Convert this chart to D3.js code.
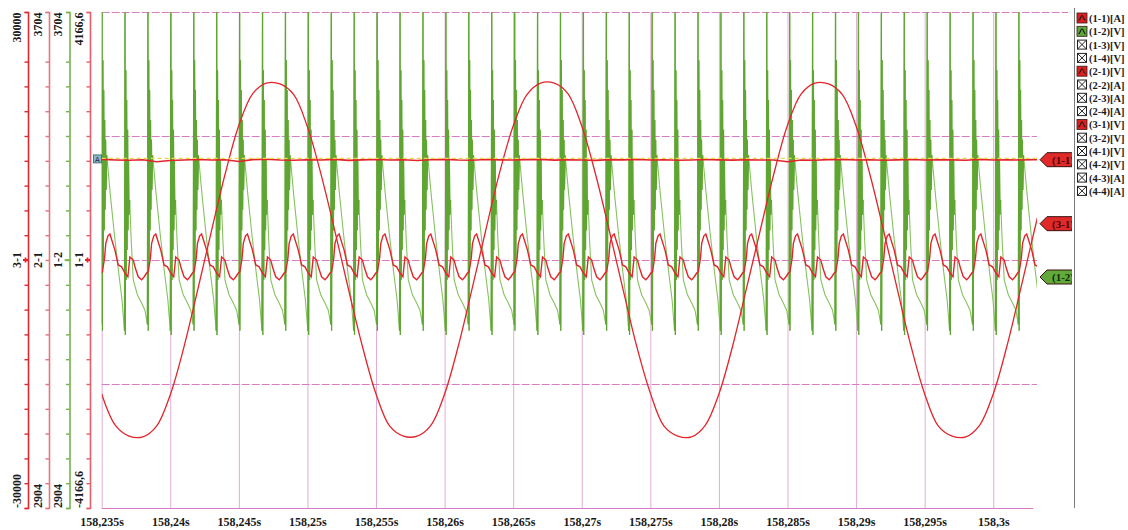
<!DOCTYPE html>
<html><head><meta charset="utf-8">
<script src="https://cdn.jsdelivr.net/npm/d3@7/dist/d3.min.js"></script>
<style>
html,body{margin:0;padding:0;background:#fff;}
svg{display:block;font-family:"Liberation Serif","Times New Roman",serif;font-weight:bold;}
</style></head><body>
<svg id="c" width="1128" height="530"></svg>
<script>
// ---------------- DATA ----------------
const T0 = 158.235;                       // s, left edge of the record
const spanMs = 67.92;                     // visible time span (ms)
const xTicks = [158.235,158.24,158.245,158.25,158.255,158.26,158.265,158.27,158.275,158.28,158.285,158.29,158.295,158.3];
const xTickLabels = ["158,235s","158,24s","158,245s","158,25s","158,255s","158,26s","158,265s","158,27s","158,275s","158,28s","158,285s","158,29s","158,295s","158,3s"];

const axisNames   = ["3-1","2-1","1-2","1-1"];
const axisTop     = ["30000","3704","3704","4166,6"];
const axisBottom  = ["-30000","2904","2904","-4166,6"];
const axisDomains = [[-30000,30000],[2904,3704],[2904,3704],[-4166.6,4166.6]];
const hGridValues = [30000,15000,0,-15000,-30000]; // on the 3-1 scale

// (3-1)[V] : one sample per ms, t = 0..69 ms
const ch31 = [
 -16200,-20000,-21300,-21400,-20100,-16300,-10500,-3600,3500,10400,
 16300,20100,21400,21300,20000,16100,10300,3500,-3600,-10400,
 -16200,-20100,-21300,-21300,-20000,-16200,-10400,-3500,3600,10500,
 16200,20000,21400,21400,20100,16200,10400,3600,-3500,-10400,
 -16100,-20100,-21300,-21400,-20000,-16200,-10400,-3500,3500,10400,
 16300,20100,21400,21300,20000,16200,10400,3600,-3500,-10400,
 -16200,-20100,-21300,-21400,-20000,-16200,-10400,-3500,3600,10400];

// (1-1)[A] : one sample per ms, t = 0..69 ms
const ch11 = [
 1690,1680,1675,1685,1650,1672,1680,1688,1679,1683,
 1655,1686,1692,1681,1677,1684,1680,1690,1674,1682,
 1688,1679,1685,1671,1683,1690,1680,1676,1688,1682,
 1679,1686,1691,1678,1684,1680,1673,1687,1682,1690,
 1679,1684,1676,1681,1689,1683,1678,1685,1680,1680,
 1650,1681,1677,1686,1690,1680,1684,1675,1682,1688,
 1679,1685,1683,1677,1690,1681,1684,1680,1686,1682];
const ch11Trigger = 1708;

// (2-1)[V] : one ripple period [ms after peak, value]
const ripplePeriodMs = 3.342, ripplePhaseMs = 0.6;
const ch21Cycle = [[0,3346],[0.365,3320],[0.605,3296],[0.853,3293],[1.094,3283],[1.31,3277],
 [1.458,3309],[1.70,3304],[1.85,3291],[2.063,3277],[2.311,3272],[2.5,3277],[2.676,3283],
 [2.79,3285],[2.95,3307],[3.04,3331],[3.2,3343]];

// (1-2)[V] : two alternating commutation cycles [ms after spike, value]
const spikePeriodMs = 1.671, spikePhaseMs = 0.03, burstEndMs = 0.34;
const ch12CycleA = [[0,3764],[0.02,3183],[0.06,3610],[0.09,3272],[0.12,3562],[0.155,3320],[0.19,3514],
 [0.22,3352],[0.255,3465],[0.29,3377],[0.34,3401],[0.45,3336],[0.6,3272],[0.9,3248],[1.2,3235],[1.45,3223],[1.63,3200]];
const ch12CycleB = [[0,3764],[0.02,3190],[0.06,3626],[0.09,3304],[0.12,3578],[0.155,3352],[0.19,3530],
 [0.22,3385],[0.255,3498],[0.29,3417],[0.34,3473],[0.6,3409],[0.9,3344],[1.2,3285],[1.45,3240],[1.63,3190]];

const legendItems = ["(1-1)[A]","(1-2)[V]","(1-3)[V]","(1-4)[V]","(2-1)[V]","(2-2)[A]","(2-3)[A]","(2-4)[A]","(3-1)[V]","(3-2)[V]","(4-1)[V]","(4-2)[V]","(4-3)[A]","(4-4)[A]"];
const legendOn    = ["red","green",null,null,"red",null,null,null,"red",null,null,null,null,null];

// ---------------- LAYOUT / STYLE ----------------
const L = 101.7, R = 1033.3, TOP = 12, BOT = 508, CLIPR = 1037;
const axisX = [28, 49, 69.5, 90];
const axisColors = ["#e3262c","#e8737a","#74b34a","#e25f6b"];
const RED = "#e2252b", GREEN_LIGHT = "#86c25f", GREEN_DARK = "#5ea532", PINK = "#d97cc6", PINKV = "#e2acd8";

const svg = d3.select("#c");
const x = d3.scaleLinear().domain([T0, T0 + spanMs/1000]).range([L, R]);
const yScales = axisDomains.map(d => d3.scaleLinear().domain(d).range([BOT, TOP]));
const [y31, y21, y12, y11] = yScales;
const tx = ms => x(T0 + ms/1000);

// clip
const defs = svg.append("defs");
defs.append("clipPath").attr("id","pc")
  .append("rect").attr("x", L).attr("y", TOP).attr("width", CLIPR - L).attr("height", BOT - TOP);
defs.append("clipPath").attr("id","fc")
  .append("rect").attr("x", 1030).attr("y", 0).attr("width", 42).attr("height", 530);

// vertical grid via axis
const vg = svg.append("g").attr("transform", `translate(0,${BOT})`)
  .call(d3.axisBottom(x).tickValues(xTicks).tickSize(-(BOT-TOP)).tickFormat(""));
vg.select(".domain").remove();
vg.selectAll(".tick line").attr("stroke", PINKV).attr("stroke-width", 1);

// horizontal grid
hGridValues.forEach((v,i) => {
  const yy = Math.round(y31(v)) + 0.5;
  const x2 = i === 0 ? 1068 : (i === hGridValues.length-1 ? R : CLIPR);
  svg.append("line").attr("x1", L).attr("x2", x2).attr("y1", yy).attr("y2", yy)
    .attr("stroke", PINK).attr("stroke-width", 1)
    .attr("stroke-dasharray", i === hGridValues.length-1 ? null : "8,2");
});

// x tick labels
const xa = svg.append("g").attr("transform", `translate(0,${BOT})`)
  .call(d3.axisBottom(x).tickValues(xTicks).tickSize(0).tickFormat((d,i) => xTickLabels[i]));
xa.select(".domain").remove();
xa.selectAll("text").attr("y", 18).attr("dy", 0)
  .style("font-family", '"Liberation Serif",serif').style("font-weight","bold")
  .style("font-size","12px").attr("fill","#1a1a1a");

// left axes
axisDomains.forEach((dom, i) => {
  const s = yScales[i];
  const tv = d3.range(21).map(j => dom[0] + j*(dom[1]-dom[0])/20).filter((_, j) => j !== 19);
  const g = svg.append("g").attr("transform", `translate(${axisX[i]},0)`)
    .call(d3.axisLeft(s).tickValues(tv).tickSize(3.5).tickSizeOuter(3.5).tickFormat(""));
  g.select(".domain").attr("stroke", axisColors[i]).attr("stroke-width", 1.6);
  g.selectAll(".tick line").attr("stroke", axisColors[i]).attr("stroke-width", 1.4);
  const bx = axisX[i] - 7.5;
  const lab = (txt, yy, anchor) => svg.append("text")
    .attr("transform", `translate(${bx},${yy}) rotate(-90)`)
    .attr("text-anchor", anchor).attr("font-size", 12).attr("fill", "#1a1a1a").text(txt);
  lab(axisTop[i], TOP + 0.5, "end");
  lab(axisBottom[i], BOT, "start");
  lab(axisNames[i], (TOP + BOT)/2, "middle");
  const cy = (TOP + BOT)/2;
  if (i === 2) {
    svg.append("line").attr("x1", axisX[i]-5).attr("x2", axisX[i]).attr("y1", cy).attr("y2", cy)
      .attr("stroke", axisColors[i]).attr("stroke-width", 1.6);
  } else if (i === 0 || i === 3) {
    svg.append("path").attr("d", `M${axisX[i]-5},${cy}H${axisX[i]}M${axisX[i]-2.5},${cy-2.5}V${cy+2.5}`)
      .attr("stroke", "#e3262c").attr("stroke-width", 1.8);
  }
});

// ------------- series -------------
const plot = svg.append("g").attr("clip-path", "url(#pc)");
const lineOf = ys => d3.line().x(d => tx(d[0])).y(d => ys(d[1]));

// (1-2) green : whole trace light, commutation bursts dark
const g12 = [], bursts = [];
for (let k = -1; k <= 41; k++) {
  const s = spikePhaseMs + k*spikePeriodMs;
  const tpl = (Math.abs(k) % 2 === 0) ? ch12CycleB : ch12CycleA;
  const b = g12.length ? [g12[g12.length-1]] : [];
  tpl.forEach(p => {
    const pt = [s + p[0], p[1]];
    g12.push(pt);
    if (p[0] <= burstEndMs) b.push(pt);
  });
  bursts.push(b);
}
plot.append("path").datum(g12).attr("d", lineOf(y12))
  .attr("fill","none").attr("stroke", GREEN_LIGHT).attr("stroke-width", 1.1);
plot.selectAll(".burst").data(bursts).join("path").attr("class","burst")
  .attr("d", lineOf(y12)).attr("fill","none").attr("stroke", GREEN_DARK).attr("stroke-width", 1.2);

// (3-1) red sine
const s31 = ch31.map((v, i) => [i, v]);
plot.append("path").datum(s31).attr("d", lineOf(y31).curve(d3.curveCatmullRom))
  .attr("fill","none").attr("stroke", RED).attr("stroke-width", 1.3);

// (2-1) ripple
const s21 = [];
for (let k = -1; k <= 20; k++) {
  const p0 = ripplePhaseMs + k*ripplePeriodMs;
  ch21Cycle.forEach(p => s21.push([p0 + p[0], p[1]]));
}
plot.append("path").datum(s21).attr("d", lineOf(y21))
  .attr("fill","none").attr("stroke", RED).attr("stroke-width", 1.4);

// (1-1)
const s11 = ch11.map((v, i) => [i, v]);
plot.append("path").datum(s11).attr("d", lineOf(y11))
  .attr("fill","none").attr("stroke", RED).attr("stroke-width", 1.6);
plot.append("line").attr("x1", L).attr("x2", CLIPR)
  .attr("y1", y11(ch11Trigger)).attr("y2", y11(ch11Trigger))
  .attr("stroke", "#eed54a").attr("stroke-width", 1.3).attr("stroke-dasharray", "4,3");

// "A" marker
const ay = y11(ch11[0]);
svg.append("rect").attr("x", 93.5).attr("y", ay-4.5).attr("width", 8).attr("height", 8)
  .attr("fill", "#86b9cc").attr("stroke", "#3d5a6a").attr("stroke-width", 0.8);
svg.append("text").attr("x", 97.5).attr("y", ay+2.5).attr("text-anchor","middle")
  .attr("font-size", 7).attr("font-family","DejaVu Sans").attr("font-weight","normal").attr("fill","#223").text("A");

// ------------- right flags -------------
function valueAt(series, ms) {
  const i = d3.bisector(d => d[0]).left(series, ms);
  const a = series[Math.max(0, i-1)], b = series[Math.min(series.length-1, i)];
  if (b[0] === a[0]) return a[1];
  return a[1] + (b[1]-a[1]) * (ms - a[0]) / (b[0]-a[0]);
}
const edgeMs = (x.invert(1036) - T0) * 1000;
const flags = [
  {label:"(1-1)", y: y11(valueAt(s11, edgeMs)), fill:"#e02a2a", text:"#4a0000"},
  {label:"(3-1)", y: y31(valueAt(s31, edgeMs)), fill:"#e02a2a", text:"#4a0000"},
  {label:"(1-2)", y: y12(valueAt(g12, edgeMs)), fill:"#62a83a", text:"#0c2a00"}
];
const fg = svg.append("g").attr("clip-path","url(#fc)");
flags.forEach(f => {
  const yy = f.y;
  fg.append("path")
    .attr("d", `M1040,${yy}L1047,${yy-7}H1073V${yy+7}H1047Z`)
    .attr("fill", f.fill).attr("stroke", "#3a1010").attr("stroke-width", 1);
  fg.append("text").attr("x", 1052).attr("y", yy+4).attr("font-size", 11)
    .attr("fill", f.text).text(f.label);
});

// ------------- legend -------------
svg.append("line").attr("x1", 1074.5).attr("x2", 1074.5).attr("y1", 8).attr("y2", 508)
  .attr("stroke", "#7a7a7a").attr("stroke-width", 1);
legendItems.forEach((t, i) => {
  const cy = 18 + i*13.3;
  const g = svg.append("g").attr("transform", `translate(1077,${cy-5})`);
  if (legendOn[i]) {
    g.append("rect").attr("width", 10).attr("height", 10)
      .attr("fill", legendOn[i] === "red" ? "#dc1f1f" : "#5da63a").attr("stroke", "#3a1a1a").attr("stroke-width", 0.8);
    g.append("path").attr("d", "M1.5,7.5 C3.5,7.5 3.5,2.5 5,2.5 C6.5,2.5 6.5,7.5 8.5,7.5")
      .attr("fill","none").attr("stroke","#1a1a1a").attr("stroke-width", 1.1);
  } else {
    g.append("rect").attr("x", 0.5).attr("y", 0.5).attr("width", 9).attr("height", 9)
      .attr("fill", "#fff").attr("stroke", "#222").attr("stroke-width", 1);
    g.append("path").attr("d", "M0.5,0.5L9.5,9.5M9.5,0.5L0.5,9.5").attr("stroke", "#222").attr("stroke-width", 1);
  }
  svg.append("text").attr("x", 1089).attr("y", cy + 4).attr("font-size", 10.5)
    .attr("fill", "#1a1a1a").text(t);
});
</script>
</body></html>
